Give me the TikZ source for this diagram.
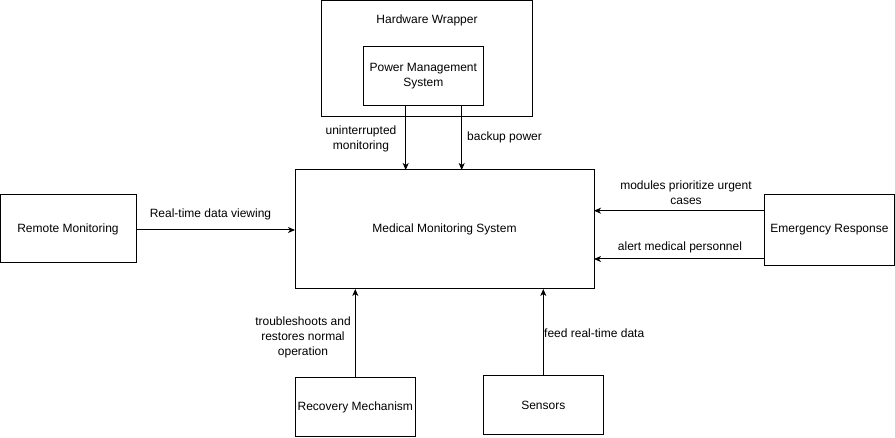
\documentclass[tikz,border=0pt]{standalone}
\usepackage{fontspec}
\setmainfont{Liberation Sans}
\usetikzlibrary{arrows.meta,positioning}
\begin{document}
\begin{tikzpicture}[x=1pt,y=-1pt,
  box/.style={draw,line width=1pt,inner sep=0pt},
  lbl/.style={font=\fontsize{12}{15}\selectfont,align=center,inner sep=0pt},
  conn/.style={draw,line width=1pt,-{Stealth[length=7pt,width=6pt,inset=2pt]}}]
\useasboundingbox (0,0) rectangle (895,438);
% boxes
\node[box,minimum width=211pt,minimum height=116pt] (hw) at (427,58.5) {};
\node[lbl] (hwt) at (427,20) {Hardware Wrapper};
\node[box,minimum width=120pt,minimum height=59pt,lbl] (pm) at (423.3,76) {Power Management\\System};
\node[box,minimum width=299pt,minimum height=119pt,lbl] (mms) at (444.5,229.5) {Medical Monitoring System};
\node[box,minimum width=136pt,minimum height=68pt,lbl] (rm) at (68,229) {Remote Monitoring};
\node[box,minimum width=130pt,minimum height=71pt,lbl] (er) at (829.5,230) {Emergency Response};
\node[box,minimum width=120pt,minimum height=59pt,lbl] (rec) at (355.3,407) {Recovery Mechanism};
\node[box,minimum width=120pt,minimum height=59pt,lbl] (sen) at (543.3,405.3) {Sensors};
% connector coordinates
\coordinate (pa) at (405.7,106);
\coordinate (pb) at (461.7,106);
\coordinate (ma) at (405.7,170);
\coordinate (mb) at (461.7,170);
\coordinate (ml) at (295,230);
\coordinate (rr) at (136,230);
\coordinate (e1) at (764.3,210.7);
\coordinate (e2) at (764.3,259);
\coordinate (m1) at (594,210.7);
\coordinate (m2) at (594,259);
\coordinate (rt) at (355.3,377.3);
\coordinate (mr) at (355.3,289);
\coordinate (st) at (543.3,375.7);
\coordinate (ms) at (543.3,289);
% connectors
\draw[conn] (pa) -- (ma);
\draw[conn] (pb) -- (mb);
\draw[conn] (rr) -- (ml);
\draw[conn] (e1) -- (m1);
\draw[conn] (e2) -- (m2);
\draw[conn] (rt) -- (mr);
\draw[conn] (st) -- (ms);
% labels
\node[lbl] (l1) at (361,138.5) {uninterrupted\\monitoring};
\node[lbl,anchor=west] (l2) at (467,137) {backup power};
\node[lbl] (l3) at (210.5,214.5) {Real-time data viewing};
\node[lbl] (l4) at (686,192.5) {modules prioritize urgent\\cases};
\node[lbl] (l5) at (680,247) {alert medical personnel};
\node[lbl] (l6) at (303,337) {troubleshoots and\\restores normal\\operation};
\node[lbl,anchor=west] (l7) at (544,333.5) {feed real-time data};
\end{tikzpicture}
\end{document}
